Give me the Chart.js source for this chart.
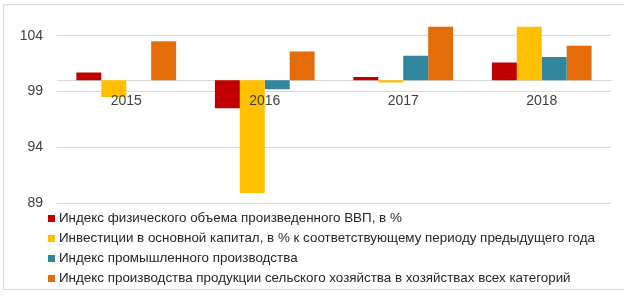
<!doctype html>
<html lang="ru">
<head>
<meta charset="utf-8">
<title>Индексы</title>
<script src="https://cdn.jsdelivr.net/npm/chart.js"></script>
<style>
  body { margin: 0; background: #fff; }
  #wrap { position: relative; width: 624px; height: 295px; overflow: hidden; }
  #frame { position: absolute; left: 3px; top: 4px; width: 640px; height: 286px; border: 1px solid #d9d9d9; box-sizing: border-box; }
  #legend { position: absolute; left: 48px; top: 208px; font-family: "Liberation Sans", Arial, sans-serif; font-size: 13.4px; color: #262626; }
  .item { height: 20px; line-height: 20px; white-space: nowrap; }
  .box { display: inline-block; width: 7px; height: 7px; margin-right: 4px; vertical-align: 0px; }
</style>
</head>
<body>
<div id="wrap">
  <div id="frame"></div>
  <canvas id="chart" width="624" height="295" style="position:absolute;left:0;top:0"></canvas>
  <div id="legend"></div>
</div>
<script>
// categories and values
var years = ['2015', '2016', '2017', '2018'];
var gdp = [100.7, 97.5, 100.3, 101.6];
var invest = [98.5, 89.9, 99.8, 104.8];
var industry = [100.0, 99.2, 102.2, 102.1];
var agro = [103.5, 102.6, 104.8, 103.1];
var yTicks = [89, 94, 99, 104];

var names = [
  'Индекс физического объема произведенного ВВП, в %',
  'Инвестиции в основной капитал, в % к соответствующему периоду предыдущего года',
  'Индекс промышленного производства',
  'Индекс производства продукции сельского хозяйства в хозяйствах всех категорий'
];
var colors = ['#C00000', '#FFC000', '#31859C', '#E46C0A'];
var series = [gdp, invest, industry, agro];

var datasets = series.map(function (vals, i) {
  return {
    label: names[i],
    data: vals,
    backgroundColor: colors[i],
    base: 100,
    categoryPercentage: 0.72,
    barPercentage: 1.0
  };
});

var chart = new Chart(document.getElementById('chart'), {
  type: 'bar',
  data: { labels: years, datasets: datasets },
  options: {
    responsive: false,
    animation: false,
    layout: { padding: { left: 7, right: 13, top: 4, bottom: 92 } },
    plugins: { legend: { display: false }, tooltip: { enabled: false } },
    scales: {
      x: {
        position: { y: 100 },
        grid: { display: false, drawTicks: false },
        border: { color: '#d9d9d9', width: 1 },
        ticks: {
          z: 1, // year labels go over the bars
          padding: 12,
          color: '#404040',
          font: { family: '"Liberation Sans", Arial, sans-serif', size: 14 }
        }
      },
      y: {
        min: 89,
        max: 105.2,
        afterBuildTicks: function (axis) {
          axis.ticks = yTicks.map(function (v) { return { value: v }; });
        },
        afterFit: function (axis) { axis.width = 50; },
        grid: { color: '#d9d9d9', drawTicks: false },
        border: { display: false },
        ticks: {
          padding: 14,
          color: '#404040',
          font: { family: '"Liberation Sans", Arial, sans-serif', size: 14 }
        }
      }
    }
  }
});

// legend, one item per row
var legend = document.getElementById('legend');
chart.data.datasets.forEach(function (ds) {
  var row = document.createElement('div');
  row.className = 'item';
  var box = document.createElement('span');
  box.className = 'box';
  box.style.background = ds.backgroundColor;
  row.appendChild(box);
  row.appendChild(document.createTextNode(ds.label));
  legend.appendChild(row);
});
</script>
</body>
</html>
